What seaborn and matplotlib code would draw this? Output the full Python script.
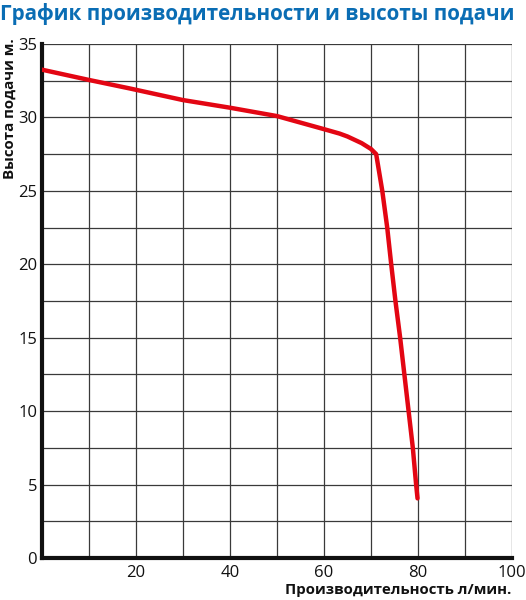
import pandas as pd
import matplotlib.pyplot as plt
import seaborn as sns

# Curve
flow = [0, 10, 18.7, 30, 40, 50, 60, 63.3, 65, 68, 70, 71.1, 72.4, 73.45, 74.3, 75.2, 76.2, 77.1, 78.0, 78.9, 79.6, 79.9]
head = [33.25, 32.55, 31.97, 31.18, 30.66, 30.09, 29.2, 28.9, 28.7, 28.25, 27.85, 27.5, 25.0, 22.5, 20.0, 17.5, 15.0, 12.5, 10.0, 7.5, 5.0, 4.06]

x_ticks = [20, 40, 60, 80, 100]
y_ticks = [0, 5, 10, 15, 20, 25, 30, 35]

df = pd.DataFrame({"flow": flow, "head": head})

sns.set_style("white")
plt.rcParams["font.family"] = ["Open Sans", "DejaVu Sans"]

fig = plt.figure(figsize=(5.26, 6), dpi=100)
ax = fig.add_axes([0.0798, 0.07, 0.8936, 0.8567])

sns.lineplot(data=df, x="flow", y="head", sort=False, color="#e30613",
             linewidth=3.2, ax=ax, zorder=3)
ax.lines[0].set_solid_joinstyle("round")
ax.lines[0].set_solid_capstyle("round")

ax.set_xlim(0, 100)
ax.set_ylim(0, 35)
ax.set_xticks(x_ticks)
ax.set_yticks(y_ticks)
ax.set_xticks(range(0, 101, 10), minor=True)
ax.set_yticks([v / 2 for v in range(0, 71, 5)], minor=True)
ax.grid(which="both", color="#3a3a3a", linewidth=0.9)
ax.tick_params(which="both", length=0, labelsize=12, colors="#111111")
ax.tick_params(axis="x", pad=5)

for side in ["top", "right"]:
    ax.spines[side].set_visible(False)
for side in ["left", "bottom"]:
    ax.spines[side].set_linewidth(3)
    ax.spines[side].set_color("#111111")

ax.set_xlabel("")
ax.set_ylabel("")
fig.text(0.973, 0.005, "Производительность л/мин.", ha="right", va="bottom",
         fontsize=10.8, fontweight="bold", color="#111111")
fig.text(0.005, 0.937, "Высота подачи м.", ha="left", va="top", rotation=90,
         fontsize=10.8, fontweight="bold", color="#111111")
fig.text(0.0, 0.995, "График производительности и высоты подачи", ha="left", va="top",
         fontsize=14.9, fontweight="bold", color="#0a6db4")

plt.savefig("out.png", dpi=100)
